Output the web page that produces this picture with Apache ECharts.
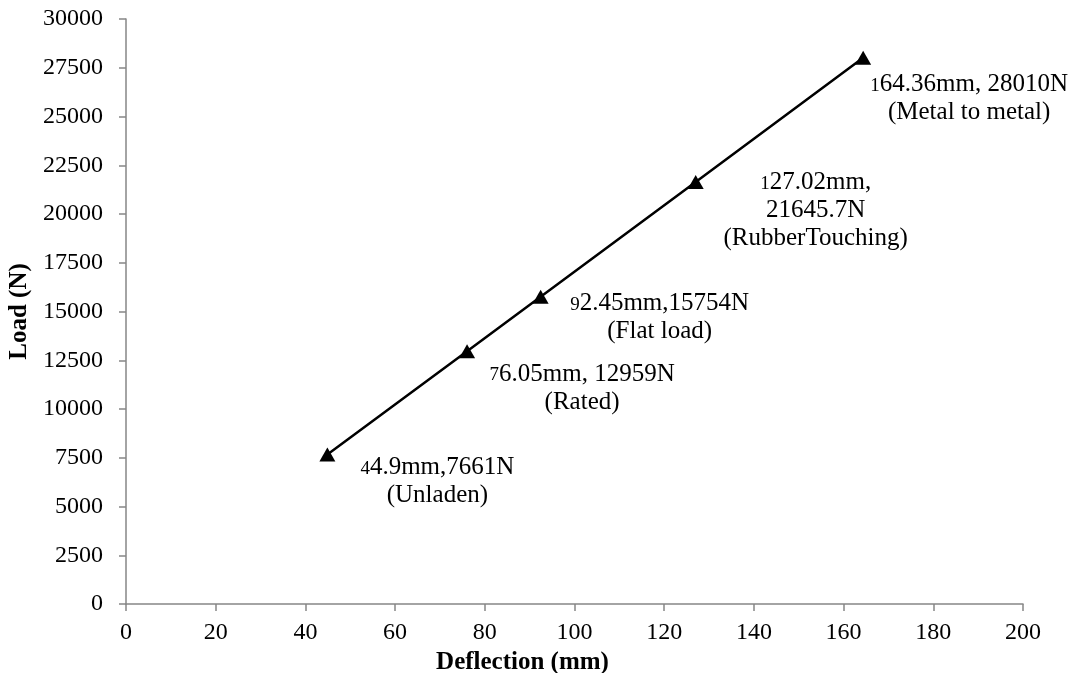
<!DOCTYPE html>
<html>
<head>
<meta charset="utf-8">
<script src="https://cdn.jsdelivr.net/npm/echarts@6/dist/echarts.min.js"></script>
<style>
html, body { margin: 0; padding: 0; background: #fff; }
#chart { width: 1073px; height: 673px; }
</style>
</head>
<body>
<div id="chart"></div>
<script>
// deflection (mm) and load (N) at each point
const deflection = [44.9, 76.05, 92.45, 127.02, 164.36];
const load = [7661, 12959, 15754, 21645.7, 28010];
// text shown next to each point
const labelLines = [
  ['44.9mm,7661N', '(Unladen)'],
  ['76.05mm, 12959N', '(Rated)'],
  ['92.45mm,15754N', '(Flat load)'],
  ['127.02mm,', '21645.7N', '(RubberTouching)'],
  ['164.36mm, 28010N', '(Metal to metal)']
];
const xTicks = [0, 20, 40, 60, 80, 100, 120, 140, 160, 180, 200];
const yTicks = [0, 2500, 5000, 7500, 10000, 12500, 15000, 17500, 20000, 22500, 25000, 27500, 30000];

const FONT = "'Liberation Serif', 'Times New Roman', serif";
const AXIS_COLOR = '#868686';

// label offsets from the point (px)
const offsets = [[110, 27], [115, 37], [119, 21], [120, 29], [106, 41]];

function richText(lines) {
  return lines.map((l, i) => {
    if (i === 0) return '{s|' + l[0] + '}{n|' + l.slice(1) + '}';
    return '{n|' + l + '}';
  }).join('\n');
}

const points = deflection.map((x, i) => ({
  value: [x, load[i]],
  label: {
    offset: offsets[i],
    formatter: richText(labelLines[i])
  }
}));

var myChart = echarts.init(document.getElementById('chart'));
var option = {
  animation: false,
  grid: {
    left: 126,
    right: 50,
    top: 19,
    bottom: 69,
    outerBoundsMode: 'none'
  },
  xAxis: {
    type: 'value',
    min: xTicks[0],
    max: xTicks[xTicks.length - 1],
    interval: 20,
    name: 'Deflection (mm)',
    nameLocation: 'middle',
    nameGap: 36,
    nameTextStyle: {
      fontFamily: FONT,
      fontSize: 25,
      fontWeight: 'bold',
      color: '#000',
      padding: [0, 104, 0, 0]
    },
    axisLine: { show: true, lineStyle: { color: AXIS_COLOR, width: 1.5 } },
    axisTick: { show: true, length: 7, lineStyle: { color: AXIS_COLOR, width: 1.5 } },
    axisLabel: {
      margin: 17,
      fontFamily: FONT,
      fontSize: 24,
      color: '#000'
    },
    splitLine: { show: false }
  },
  yAxis: {
    type: 'value',
    min: yTicks[0],
    max: yTicks[yTicks.length - 1],
    interval: 2500,
    name: 'Load (N)',
    nameLocation: 'middle',
    nameGap: 90,
    nameTextStyle: {
      fontFamily: FONT,
      fontSize: 25,
      fontWeight: 'bold',
      color: '#000'
    },
    axisLine: { show: true, lineStyle: { color: AXIS_COLOR, width: 1.5 } },
    axisTick: { show: true, length: 7, lineStyle: { color: AXIS_COLOR, width: 1.5 } },
    axisLabel: {
      margin: 23,
      fontFamily: FONT,
      fontSize: 24,
      color: '#000',
      formatter: function (v) { return String(v); }
    },
    splitLine: { show: false }
  },
  series: [
    {
      type: 'line',
      data: points,
      symbol: 'triangle',
      symbolSize: [16, 14],
      itemStyle: { color: '#000' },
      lineStyle: { color: '#000', width: 2.5 },
      label: {
        show: true,
        position: 'inside',
        align: 'center',
        verticalAlign: 'middle',
        color: '#000',
        rich: {
          s: { fontFamily: FONT, fontSize: 19, lineHeight: 28, color: '#000', verticalAlign: 'middle', padding: [2, 0, 0, 0] },
          n: { fontFamily: FONT, fontSize: 25, lineHeight: 28, color: '#000', align: 'center' }
        }
      }
    }
  ]
};
myChart.setOption(option);
</script>
</body>
</html>
